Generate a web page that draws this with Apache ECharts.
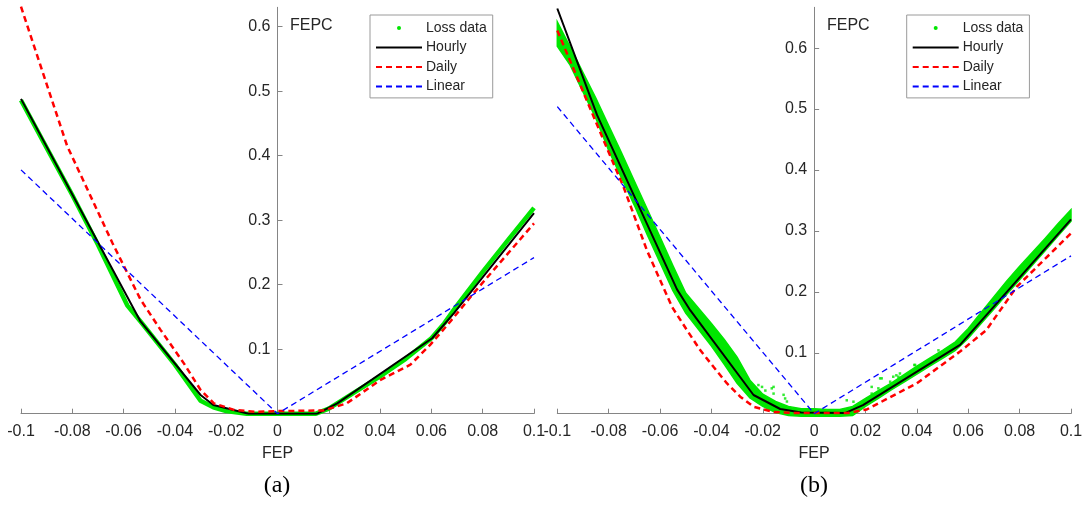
<!DOCTYPE html>
<html><head><meta charset="utf-8">
<script src="https://cdn.jsdelivr.net/npm/echarts@6/dist/echarts.min.js"></script>
<style>html,body{margin:0;padding:0;background:#fff}#c{width:1086px;height:507px}</style>
</head><body><div id="c"></div>
<script>
// ---------- Panel (a) ----------
const lossA_x   = [-0.1, -0.09, -0.08, -0.07, -0.0586, -0.053, -0.04, -0.03, -0.025, -0.02, -0.012, 0.015, 0.02, 0.03, 0.04, 0.05, 0.06, 0.065, 0.07, 0.08, 0.09, 0.1];
const lossA_y   = [0.486, 0.412, 0.339, 0.262, 0.168, 0.141, 0.076, 0.02, 0.01, 0.004, 0.0, 0.0, 0.008, 0.033, 0.058, 0.085, 0.117, 0.14, 0.168, 0.22, 0.27, 0.319];
const hourlyA_x = [-0.1, -0.0534, -0.03, -0.025, -0.0113, 0.0155, 0.0233, 0.0603, 0.0688, 0.1];
const hourlyA_y = [0.488, 0.143, 0.029, 0.0135, 0.0, 0.0, 0.016, 0.117, 0.156, 0.311];
const dailyA_x  = [-0.1, -0.082, -0.0644, -0.0534, -0.0456, -0.0365, -0.03, -0.0248, -0.017, -0.0087, 0, 0.018, 0.027, 0.04, 0.0518, 0.0596, 0.0674, 0.0765, 0.0843, 0.1];
const dailyA_y  = [0.631, 0.415, 0.265, 0.177, 0.13, 0.078, 0.037, 0.016, 0.006, 0.003, 0.004, 0.005, 0.016, 0.052, 0.076, 0.107, 0.143, 0.187, 0.223, 0.295];
const linearA_x = [-0.1, 0, 0.1];
const linearA_y = [0.378, 0, 0.242];

// ---------- Panel (b) ----------
const lossB_x    = [-0.1, -0.095, -0.09, -0.085, -0.08, -0.075, -0.07, -0.065, -0.06, -0.055, -0.05, -0.045, -0.04, -0.035, -0.03, -0.025, -0.02, -0.015, -0.01, -0.005, 0, 0.005, 0.01, 0.015, 0.02, 0.025, 0.03, 0.035, 0.04, 0.045, 0.05, 0.055, 0.06, 0.065, 0.07, 0.075, 0.08, 0.085, 0.09, 0.095, 0.1];
const lossB_low  = [0.603, 0.572, 0.528, 0.485, 0.432, 0.387, 0.342, 0.294, 0.248, 0.202, 0.165, 0.138, 0.111, 0.081, 0.050, 0.026, 0.012, 0.002, -0.003, -0.004, -0.004, -0.004, -0.004, -0.003, 0.012, 0.025, 0.039, 0.052, 0.065, 0.078, 0.091, 0.104, 0.124, 0.148, 0.172, 0.196, 0.220, 0.244, 0.268, 0.292, 0.316];
const lossB_high = [0.643, 0.602, 0.560, 0.518, 0.473, 0.428, 0.382, 0.336, 0.290, 0.243, 0.198, 0.173, 0.148, 0.122, 0.093, 0.055, 0.032, 0.020, 0.012, 0.008, 0.008, 0.007, 0.007, 0.012, 0.025, 0.038, 0.050, 0.064, 0.078, 0.091, 0.104, 0.118, 0.140, 0.166, 0.192, 0.218, 0.242, 0.265, 0.288, 0.312, 0.335];
const lossB_out_x = [-0.0217, -0.0203, -0.019, -0.0165, -0.0158, -0.0158, -0.0119, -0.0113, -0.0106, 0.0127, 0.0153, 0.0224, 0.0224, 0.025, 0.0257, 0.0263, 0.0296, 0.0308, 0.032, 0.0328, 0.0334, 0.039, 0.0393, 0.04, 0.0484];
const lossB_out_y = [0.047, 0.044, 0.038, 0.0416, 0.044, 0.033, 0.031, 0.025, 0.02, 0.022, 0.0197, 0.044, 0.033, 0.0416, 0.058, 0.058, 0.0525, 0.0607, 0.063, 0.0607, 0.066, 0.08, 0.08, 0.074, 0.104];
const hourlyB_x = [-0.1, -0.0845, -0.0534, -0.0482, -0.0236, -0.0132, -0.005, 0.012, 0.019, 0.0568, 0.1];
const hourlyB_y = [0.665, 0.49, 0.204, 0.1695, 0.0307, 0.0077, 0.002, 0.001, 0.014, 0.113, 0.319];
const dailyB_x  = [-0.1, -0.082, -0.0742, -0.0651, -0.0553, -0.0495, -0.0443, -0.0392, -0.034, -0.0288, -0.0236, -0.016, -0.008, 0.013, 0.0205, 0.04, 0.0568, 0.067, 0.0788, 0.1];
const dailyB_y  = [0.629, 0.449, 0.372, 0.268, 0.175, 0.137, 0.104, 0.077, 0.05, 0.028, 0.0115, 0.003, 0.001, 0.001, 0.007, 0.05, 0.102, 0.137, 0.208, 0.296];
const linearB_x = [-0.1, 0, 0.1];
const linearB_y = [0.504, 0, 0.259];

const xTickInterval = 0.02;
const yTickInterval = 0.1;
const yMaxA = 0.63, yMaxB = 0.667;

const zip = (xs, ys) => xs.map((x, i) => [x, ys[i]]);

const FONT = "'Liberation Sans', Arial, Helvetica, sans-serif";
const GREEN = '#00e600', RED = '#ff0000', BLUE = '#0000ff', BLACK = '#000000';
const AXIS_COLOR = '#858585', TEXT_COLOR = '#262626';

// grid geometry (layout only)
const GRID_A = { left: 21, top: 7.3, width: 513, height: 406.4 };
const GRID_B = { left: 557.3, top: 7.3, width: 513.7, height: 406.4 };

function xAxisCfg(g) {
  return {
    type: 'value', gridIndex: g, min: -0.1, max: 0.1, interval: xTickInterval,
    axisLine: { show: true, onZero: true, lineStyle: { color: AXIS_COLOR, width: 1 } },
    axisTick: { show: true, inside: true, length: 5, lineStyle: { color: AXIS_COLOR } },
    axisLabel: { color: TEXT_COLOR, fontSize: 16, fontFamily: FONT, margin: 10, showMinLabel: true, showMaxLabel: true, hideOverlap: false },
    splitLine: { show: false },
    name: 'FEP', nameLocation: 'middle', nameGap: 32,
    nameTextStyle: { color: TEXT_COLOR, fontSize: 16, fontFamily: FONT }
  };
}
function yAxisCfg(g, ymax, grid) {
  return {
    type: 'value', gridIndex: g, min: 0, max: ymax, interval: yTickInterval,
    position: 'left', offset: -grid.width / 2,   // place the axis at FEP = 0 (middle of symmetric x range)
    axisLine: { show: true, onZero: false, lineStyle: { color: AXIS_COLOR, width: 1 } },
    axisTick: { show: true, inside: true, length: 5, lineStyle: { color: AXIS_COLOR } },
    axisLabel: { color: TEXT_COLOR, fontSize: 16, fontFamily: FONT, margin: 7, showMaxLabel: false,
      formatter: v => (v === 0 ? '' : String(+v.toFixed(2))) },
    splitLine: { show: false }
  };
}
function lineSeries(name, g, data, color, width, dashed) {
  return {
    name, type: 'line', xAxisIndex: g, yAxisIndex: g, data,
    symbol: 'none', silent: true, animation: false,
    lineStyle: { color, width, type: dashed ? [6, 4] : 'solid' },
    itemStyle: { color }
  };
}
function legendCfg(left) {
  return {
    left, top: 15, orient: 'vertical',
    data: [
      { name: 'Loss data', icon: 'circle' },
      { name: 'Hourly', itemStyle: { opacity: 0 } },
      { name: 'Daily', itemStyle: { opacity: 0 } },
      { name: 'Linear', itemStyle: { opacity: 0 } }
    ],
    itemWidth: 46, itemHeight: 4, itemGap: 5.5,
    padding: [6, 6, 4.4, 5],
    backgroundColor: '#fff', borderColor: '#9a9a9a', borderWidth: 1,
    textStyle: { color: TEXT_COLOR, fontSize: 14, fontFamily: FONT, lineHeight: 14, padding: [0, 0, 0, -1] },
    selectedMode: false
  };
}

const option = {
  animation: false,
  backgroundColor: '#fff',
  grid: [
    Object.assign({ containLabel: false }, GRID_A),
    Object.assign({ containLabel: false }, GRID_B)
  ],
  xAxis: [xAxisCfg(0), xAxisCfg(1)],
  yAxis: [yAxisCfg(0, yMaxA, GRID_A), yAxisCfg(1, yMaxB, GRID_B)],
  legend: [legendCfg(370), legendCfg(906.7)],
  series: [
    Object.assign(lineSeries('Loss data', 0, zip(lossA_x, lossA_y), GREEN, 4.5, false), { lineStyle: { color: GREEN, width: 4.5, join: 'round' } }),
    lineSeries('Hourly', 0, zip(hourlyA_x, hourlyA_y), BLACK, 2, false),
    lineSeries('Daily', 0, zip(dailyA_x, dailyA_y), RED, 2.5, true),
    lineSeries('Linear', 0, zip(linearA_x, linearA_y), BLUE, 1.3, true),
    {
      name: 'Loss data', type: 'custom', xAxisIndex: 1, yAxisIndex: 1, silent: true,
      data: [[lossB_x[0], lossB_low[0]]],
      itemStyle: { color: GREEN },
      renderItem: function (params, api) {
        const pts = [];
        for (let i = 0; i < lossB_x.length; i++) pts.push(api.coord([lossB_x[i], lossB_high[i]]));
        for (let i = lossB_x.length - 1; i >= 0; i--) pts.push(api.coord([lossB_x[i], lossB_low[i]]));
        return { type: 'polygon', shape: { points: pts }, style: { fill: GREEN, stroke: GREEN, lineWidth: 1.5 } };
      }
    },
    {
      name: 'Loss data', type: 'scatter', xAxisIndex: 1, yAxisIndex: 1, silent: true,
      data: zip(lossB_out_x, lossB_out_y), symbol: 'rect', symbolSize: 2.5, itemStyle: { color: GREEN }
    },
    lineSeries('Hourly', 1, zip(hourlyB_x, hourlyB_y), BLACK, 2, false),
    lineSeries('Daily', 1, zip(dailyB_x, dailyB_y), RED, 2.5, true),
    lineSeries('Linear', 1, zip(linearB_x, linearB_y), BLUE, 1.3, true)
  ],
  graphic: [
    { type: 'text', left: 290, top: 18, style: { text: 'FEPC', fill: TEXT_COLOR, font: '16px ' + FONT } },
    { type: 'text', left: 827, top: 18, style: { text: 'FEPC', fill: TEXT_COLOR, font: '16px ' + FONT } },
    { type: 'text', x: 277, y: 486, style: { text: '(a)', fill: '#000', font: "24px 'Liberation Serif', 'DejaVu Serif', serif", textAlign: 'center', textVerticalAlign: 'middle' } },
    { type: 'text', x: 814, y: 486, style: { text: '(b)', fill: '#000', font: "24px 'Liberation Serif', 'DejaVu Serif', serif", textAlign: 'center', textVerticalAlign: 'middle' } }
  ]
};

const chart = echarts.init(document.getElementById('c'), null, { renderer: 'canvas' });
chart.setOption(option);
</script></body></html>
